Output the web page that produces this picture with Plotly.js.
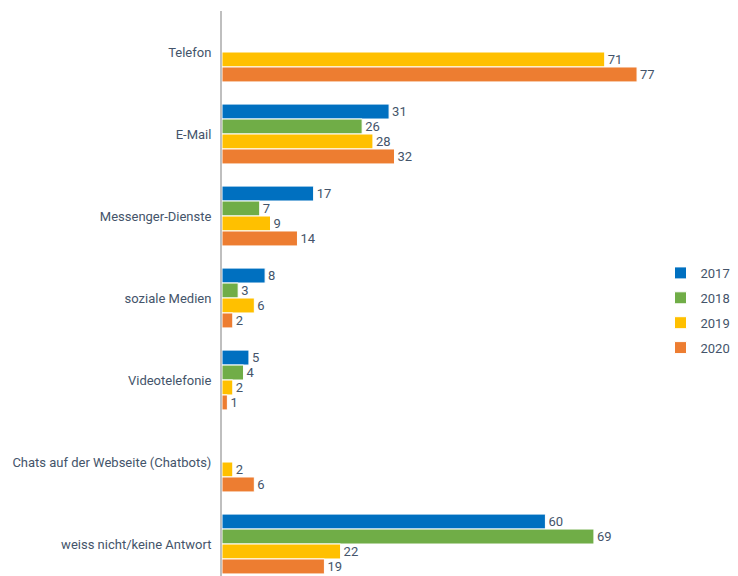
<!DOCTYPE html>
<html><head><meta charset="utf-8">
<script src="https://cdn.plot.ly/plotly-3.0.1.min.js"></script>
<style>html,body{margin:0;padding:0;background:#fff}</style>
</head><body>
<div id="chart" style="width:738px;height:576px"></div>
<script>
const categories = ["Telefon","E-Mail","Messenger-Dienste","soziale Medien","Videotelefonie","Chats auf der Webseite (Chatbots)","weiss nicht/keine Antwort"];
const years = ["2017","2018","2019","2020"];
const v2017 = [null,31,17,8,5,null,60];
const v2018 = [null,26,7,3,4,null,69];
const v2019 = [71,28,9,6,2,2,22];
const v2020 = [77,32,14,2,1,6,19];
const colors = ["#0070C0","#70AD47","#FFC000","#ED7D31"];
const series = [v2017,v2018,v2019,v2020];
const txt = "#44546A";
const traces = series.map((vals,i)=>({
  type:"bar", orientation:"h", name:years[i], y:categories, x:vals,
  marker:{color:colors[i], line:{color:"#fff", width:1}},
  text: vals.map(v=>v==null?"":String(v)), textposition:"outside",
  textfont:{color:txt, size:13, family:"Roboto"}, constraintext:"none", cliponaxis:false,
  legendgroup:"g"+i, hoverinfo:"x+name"
}));
const layout = {
  width:738, height:576, barmode:"group", bargap:0.27, bargroupgap:0,
  margin:{l:222, r:74, t:11, b:0, autoexpand:false},
  paper_bgcolor:"#fff", plot_bgcolor:"#fff",
  font:{family:"Roboto", color:txt, size:13},
  xaxis:{range:[0,82], showgrid:false, zeroline:false, showticklabels:false, showline:false, ticks:""},
  yaxis:{type:"category", range:[6.39,-0.5], showgrid:false, zeroline:false, showline:true, linecolor:"#BFBFBF", linewidth:2, ticks:"", ticklabelstandoff:6, tickfont:{size:13, color:txt}},
  legend:{xref:"container", x:0.895, xanchor:"left", y:0.47, yanchor:"middle", traceorder:"grouped", tracegroupgap:5, font:{size:13,color:txt}, itemwidth:30},
  showlegend:true
};
Plotly.newPlot("chart", traces, layout, {displayModeBar:false, staticPlot:true});
</script>
</body></html>
